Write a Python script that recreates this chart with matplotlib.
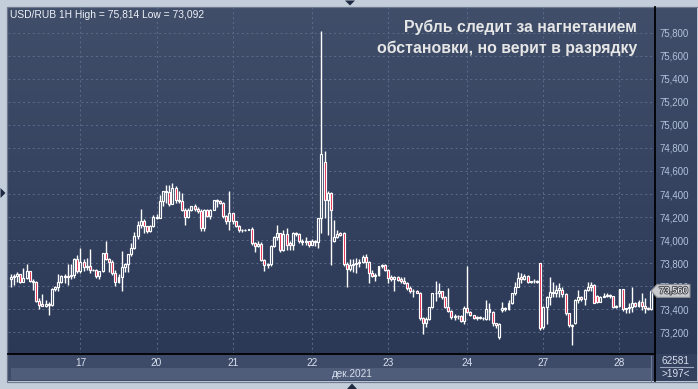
import matplotlib
matplotlib.use("Agg")
import matplotlib.pyplot as plt
import numpy as np
from matplotlib.patches import Rectangle, Polygon
from matplotlib.lines import Line2D
from matplotlib.colors import LinearSegmentedColormap
import matplotlib.patheffects as pe

plt.rcParams['font.family'] = ['Liberation Sans', 'DejaVu Sans']

# ---------------- data ----------------
opens = [
    73660, 73680, 73690, 73705, 73640, 73670, 73730, 73650, 73640, 73470,
    73445, 73430, 73450, 73440, 73580, 73590, 73640, 73690, 73680, 73690,
    73700, 73840, 73730, 73810, 73770, 73780, 73740, 73745, 73690, 73730,
    73890, 73840, 73815, 73715, 73640, 73680, 73770, 73790, 73880, 73930,
    74040,
    74135, 74164, 74120, 74077, 74126, 74201, 74193, 74338, 74425, 74420,
    74317, 74453, 74346, 74340, 74265, 74200, 74265, 74294, 74271, 74255,
    74105, 74260, 74213, 74265, 74346, 74340, 74323, 74207, 74164, 74236,
    74164, 74126, 74091, 74085, 74090, 74095, 73975, 73952, 73967, 73830,
    73787, 73790,
    73946, 74027, 74062, 73911, 74056, 73975, 73955, 74062, 74055, 73990,
    73985, 73990, 73960, 73995, 73980, 74193, 74674, 74352, 74410, 73990,
    74027, 74062, 74062, 73795, 73749, 73787, 73795, 73800, 73815, 73853,
    73815, 73714, 73690, 73700, 73772, 73786, 73743, 73685, 73660, 73685,
    73660,
    73645, 73630, 73583, 73555, 73560, 73545, 73323, 73279, 73314, 73418,
    73540, 73545, 73555, 73510, 73424, 73389, 73331, 73340, 73345, 73302,
    73410, 73380, 73352, 73323, 73330, 73322, 73315, 73401, 73380, 73279,
    73163, 73395, 73410, 73400, 73459, 73540, 73598, 73685, 73660, 73690,
    73641,
    73645, 73650, 73800, 73244, 73424, 73511, 73554, 73545, 73569, 73565,
    73534, 73366, 73255, 73285, 73482, 73505, 73488, 73569, 73598, 73612,
    73520, 73465, 73511, 73520, 73525, 73515, 73424, 73430, 73575, 73401,
    73410, 73424, 73459, 73430, 73468, 73430, 73410, 73405,
]
highs = [
    73710, 73710, 73720, 73710, 73760, 73790, 73735, 73660, 73650, 73500,
    73530, 73480, 73460, 73585, 73600, 73710, 73700, 73710, 73790, 73790,
    73845, 73870, 73930, 73835, 73845, 73920, 73750, 73750, 73735, 73890,
    73990, 73845, 73830, 73740, 73710, 73910, 73800, 73880, 73975, 74070,
    74165,
    74271, 74180, 74125, 74130, 74215, 74225, 74395, 74430, 74480, 74480,
    74497, 74470, 74425, 74410, 74280, 74275, 74300, 74315, 74290, 74270,
    74270, 74270, 74270, 74350, 74360, 74345, 74330, 74215, 74425, 74240,
    74170, 74130, 74100, 74100, 74100, 74110, 73985, 73990, 73985, 73840,
    73800, 73960,
    74040, 74135, 74065, 74090, 74105, 73990, 74075, 74070, 74060, 74010,
    74025, 73995, 74010, 74000, 74193, 75814, 74772, 74425, 74416, 74178,
    74085, 74075, 74070, 73815, 73836, 73836, 73845, 73840, 73875, 73880,
    73820, 73740, 73715, 73780, 73795, 73790, 73750, 73700, 73690, 73690,
    73685,
    73680, 73640, 73600, 73575, 73565, 73548, 73330, 73337, 73420, 73545,
    73650, 73633, 73563, 73520, 73583, 73395, 73360, 73350, 73350, 73425,
    73772, 73385, 73355, 73345, 73340, 73335, 73482, 73453, 73390, 73285,
    73280, 73468, 73420, 73482, 73545, 73640, 73728, 73714, 73705, 73700,
    73650,
    73660, 73655, 73805, 73430, 73520, 73679, 73640, 73612, 73627, 73598,
    73540, 73370, 73270, 73490, 73568, 73515, 73575, 73640, 73641, 73620,
    73525, 73520, 73540, 73540, 73530, 73520, 73440, 73580, 73580, 73415,
    73453, 73598, 73465, 73480, 73540, 73495, 73420, 73570,
]
lows = [
    73590, 73610, 73640, 73630, 73635, 73660, 73640, 73570, 73460, 73400,
    73425, 73420, 73350, 73430, 73560, 73560, 73630, 73630, 73610, 73660,
    73670, 73715, 73715, 73730, 73740, 73715, 73730, 73670, 73660, 73725,
    73830, 73720, 73700, 73605, 73630, 73555, 73720, 73720, 73860, 73920,
    74010,
    74106, 74062, 74060, 74075, 74110, 74180, 74190, 74300, 74320, 74300,
    74310, 74320, 74320, 74250, 74135, 74195, 74250, 74250, 74240, 74080,
    74080, 74200, 74180, 74260, 74290, 74310, 74190, 74140, 74090, 74140,
    74110, 74070, 74075, 74080, 74085, 73960, 73900, 73940, 73820, 73730,
    73760, 73780,
    73940, 74005, 73900, 73905, 73917, 73917, 73917, 74040, 73975, 73960,
    73960, 73945, 73955, 73950, 73931, 74062, 74193, 74048, 73787, 73985,
    74020, 74040, 73780, 73598, 73737, 73720, 73715, 73770, 73800, 73758,
    73633, 73685, 73642, 73690, 73760, 73735, 73633, 73650, 73555, 73650,
    73633,
    73620, 73570, 73540, 73510, 73540, 73310, 73186, 73244, 73310, 73410,
    73476, 73505, 73490, 73410, 73380, 73320, 73310, 73320, 73290, 73273,
    73370, 73340, 73315, 73305, 73315, 73310, 73310, 73310, 73256, 73240,
    73140, 73380, 73390, 73395, 73450, 73525, 73590, 73625, 73655, 73630,
    73625,
    73630, 73630, 73220, 73230, 73270, 73440, 73510, 73510, 73510, 73510,
    73350, 73250, 73092, 73270, 73453, 73475, 73438, 73560, 73560, 73455,
    73455, 73460, 73505, 73510, 73500, 73410, 73415, 73420, 73390, 73365,
    73365, 73380, 73420, 73420, 73395, 73365, 73395, 73395,
]
closes = [
    73680, 73690, 73705, 73640, 73670, 73730, 73650, 73640, 73470, 73440,
    73430, 73450, 73440, 73580, 73590, 73640, 73690, 73680, 73690, 73700,
    73840, 73730, 73810, 73770, 73780, 73740, 73745, 73690, 73730, 73890,
    73840, 73815, 73715, 73640, 73680, 73770, 73790, 73880, 73930, 74040,
    74135,
    74164, 74120, 74077, 74126, 74201, 74193, 74338, 74425, 74420, 74317,
    74453, 74346, 74340, 74265, 74200, 74265, 74294, 74271, 74255, 74105,
    74260, 74213, 74265, 74346, 74340, 74323, 74207, 74164, 74236, 74164,
    74126, 74091, 74085, 74090, 74095, 73975, 73952, 73967, 73830, 73787,
    73790, 73946,
    74027, 74062, 73911, 74056, 73961, 73955, 74062, 74055, 73990, 73985,
    73990, 73960, 73995, 73980, 74193, 74744, 74352, 74410, 74265, 74027,
    74056, 74048, 73795, 73749, 73787, 73795, 73800, 73815, 73853, 73815,
    73714, 73690, 73700, 73772, 73786, 73743, 73670, 73660, 73685, 73657,
    73645,
    73630, 73583, 73555, 73560, 73545, 73323, 73279, 73314, 73418, 73540,
    73545, 73555, 73510, 73424, 73389, 73331, 73340, 73345, 73302, 73410,
    73380, 73352, 73323, 73330, 73322, 73325, 73401, 73380, 73279, 73262,
    73273, 73410, 73400, 73459, 73540, 73598, 73670, 73660, 73690, 73641,
    73645,
    73650, 73640, 73235, 73424, 73511, 73554, 73545, 73569, 73583, 73534,
    73366, 73264, 73262, 73482, 73505, 73488, 73569, 73598, 73612, 73459,
    73465, 73511, 73520, 73525, 73515, 73424, 73430, 73575, 73401, 73410,
    73424, 73459, 73430, 73468, 73430, 73410, 73405, 73563,
]

day_ticks = [22, 46, 70, 95, 119, 144, 168, 192]
day_labels = ['17', '20', '21', '22', '23', '24', '27', '28']
price_ticks = [73200, 73400, 73600, 73800, 74000, 74200, 74400, 74600,
               74800, 75000, 75200, 75400, 75600, 75800]
price_labels = ['73,200', '73,400', '73,600', '73,800', '74,000', '74,200',
                '74,400', '74,600', '74,800', '75,000', '75,200', '75,400',
                '75,600', '75,800']
title = 'USD/RUB 1H High = 75,814 Low = 73,092'
headline = ['Рубль следит за нагнетанием', 'обстановки, но верит в разрядку']
month_label = 'дек.2021'
last_price = 73560
last_label = '73,560'
counter_top = '62581'
counter_bottom = '>197<'

# ---------------- layout helpers ----------------
W, H, DPI = 698, 389, 100


def fb(x0, y0, x1, y1):
    return [x0 / W, 1 - y1 / H, (x1 - x0) / W, (y1 - y0) / H]


def fp(x, y):
    return (x / W, 1 - y / H)


fig = plt.figure(figsize=(W / DPI, H / DPI), dpi=DPI, facecolor='#c4cedb')

TOP_C, BOT_C = '#404e6a', '#2b3957'
cmap = LinearSegmentedColormap.from_list('bg', [TOP_C, BOT_C])

# gradient panel background
bg = fig.add_axes(fb(8, 7, 697, 354), zorder=0)
bg.imshow(np.linspace(0, 1, 256).reshape(-1, 1), aspect='auto', cmap=cmap,
          extent=[0, 1, 0, 1], origin='upper')
bg.axis('off')

# main axes
ax = fig.add_axes(fb(8, 7, 655, 354), zorder=2)
ax.patch.set_alpha(0)
YMIN, YMAX = 73013, 76022
ax.set_xlim(-0.85, 203.2)
ax.set_ylim(YMIN, YMAX)

o = np.array(opens, float)
h = np.array(highs, float)
l = np.array(lows, float)
c = np.array(closes, float)
x = np.arange(len(c))
up = c >= o

mid = (o + c) / 2
frac = 1 - (mid - YMIN) / (YMAX - YMIN)
face = [cmap(f) if u else '#e3123c' for f, u in zip(frac, up)]

ax.vlines(x, l, h, color='white', lw=1.0, zorder=3)
bottoms = np.minimum(o, c)
heights = np.maximum(np.abs(c - o), 4)
ax.bar(x, heights, bottom=bottoms, width=0.62, color=face, edgecolor='white',
       linewidth=0.85, zorder=4)

ax.set_yticks(price_ticks)
ax.set_yticklabels(price_labels)
ax.yaxis.tick_right()
ax.tick_params(axis='y', length=0, pad=3, labelsize=6.9, labelcolor='#b3c3db')
ax.set_xticks(day_ticks)
ax.set_xticklabels(day_labels)
ax.tick_params(axis='x', length=0, pad=3, labelsize=7.3, labelcolor='#d8e0ee')
ax.grid(True, color='#5b6b8a', lw=0.7, ls=(0, (2, 3)))
ax.set_axisbelow(True)
for s in ('left', 'top'):
    ax.spines[s].set_visible(False)
for s in ('right', 'bottom'):
    ax.spines[s].set_color('black')
    ax.spines[s].set_linewidth(1.3)

# bottom bands
fig.patches.append(Rectangle(fp(8, 381), 647 / W, 27 / H, transform=fig.transFigure,
                             fc='#3e4b68', ec='none', zorder=1))
fig.patches.append(Rectangle(fp(11, 380), 640 / W, 12 / H, transform=fig.transFigure,
                             fc='#4f5d7b', ec='none', zorder=1))
fig.patches.append(Rectangle(fp(655, 381), 42 / W, 27 / H, transform=fig.transFigure,
                             fc='#34415e', ec='none', zorder=1))
fig.lines.append(Line2D([651 / W, 651 / W], [1 - 356 / H, 1 - 381 / H],
                        transform=fig.transFigure, color='#6c7994', lw=0.8, zorder=1.5))
fig.lines.append(Line2D([655 / W, 655 / W], [1 - 354 / H, 1 - 381 / H],
                        transform=fig.transFigure, color='black', lw=1.3, zorder=1.5))
fig.lines.append(Line2D([660 / W, 693 / W], [1 - 367 / H, 1 - 367 / H],
                        transform=fig.transFigure, color='#9aa6bc', lw=0.8, zorder=1.5))
# panel border
fig.patches.append(Rectangle(fp(7.5, 381.5), 690 / W, 375 / H, transform=fig.transFigure,
                             fc='none', ec='#6d7a90', lw=0.9, zorder=1.6))

# triangles
for pts in ([(345, 0.5), (355, 0.5), (350, 5.5)],
            [(0.5, 188), (0.5, 198), (5.5, 193)],
            [(347, 389), (357, 389), (352, 383.5)]):
    fig.patches.append(Polygon([fp(px, py) for px, py in pts], closed=True,
                               transform=fig.transFigure, fc='#1f2a42', ec='none', zorder=3))

# texts
fig.text(10 / W, 1 - 15 / H, title, ha='left', va='center', fontsize=7.4,
         color='#eef1f6', zorder=3)
fig.text(637 / W, 1 - 31.7 / H, headline[0], ha='right', va='baseline', fontsize=11.4,
         fontweight='bold', color='#e6e6e6', zorder=3)
fig.text(637 / W, 1 - 53.3 / H, headline[1], ha='right', va='baseline', fontsize=11.4,
         fontweight='bold', color='#e6e6e6', zorder=3)
fig.text(352 / W, 1 - 374 / H, month_label, ha='center', va='center', fontsize=7.2,
         color='#d8e0ee', zorder=3)
fig.text(676 / W, 1 - 360.5 / H, counter_top, ha='center', va='center', fontsize=7.2,
         color='#d8e0ee', zorder=3)
fig.text(676 / W, 1 - 374 / H, counter_bottom, ha='center', va='center', fontsize=7.2,
         color='#d8e0ee', zorder=3)

# last price marker
yc = 354 - (last_price - YMIN) / (YMAX - YMIN) * 347
mk = [(651, yc), (657, yc - 6.5), (690, yc - 6.5), (690, yc + 6.5), (657, yc + 6.5)]
fig.patches.append(Polygon([fp(px, py) for px, py in mk], closed=True,
                           transform=fig.transFigure, fc='#c9cacd', ec='#8a8d94',
                           lw=0.8, zorder=3))
fig.text(659 / W, 1 - yc / H, last_label, ha='left', va='center', fontsize=6.8,
         color='white', zorder=4,
         path_effects=[pe.withStroke(linewidth=1.4, foreground='#4a4d55')])

fig.savefig('out.png', dpi=DPI, facecolor=fig.get_facecolor())
